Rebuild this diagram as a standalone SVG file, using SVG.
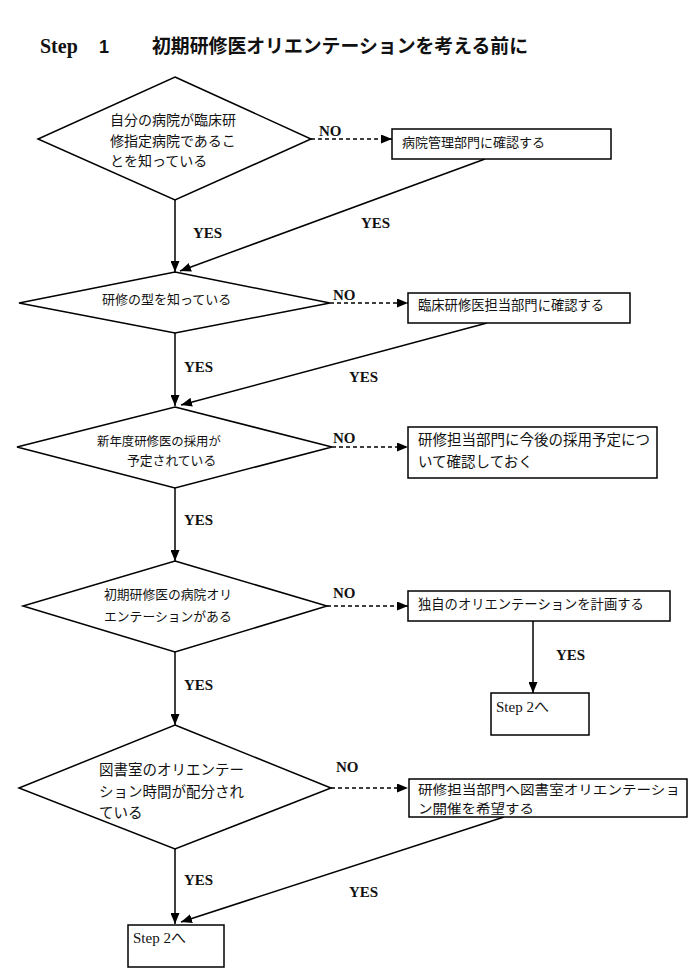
<svg xmlns="http://www.w3.org/2000/svg" width="693" height="976" viewBox="0 0 693 976">
<style>
.shape{fill:#fff;stroke:#000;stroke-width:1.5}
.ln{fill:none;stroke:#000;stroke-width:1.5}
.dash{stroke-dasharray:4,3}
.jp{font-family:"Noto Sans CJK JP","Noto Sans",sans-serif;fill:#111}
.lbl{font-family:"Liberation Serif",serif;font-weight:bold;font-size:15px;fill:#111}
.stp{font-family:"Liberation Serif","Noto Sans CJK JP",serif;font-size:15px;fill:#111}
</style>
<defs>
<marker id="ah" markerUnits="userSpaceOnUse" markerWidth="11" markerHeight="9" refX="11" refY="4.5" orient="auto">
<path d="M0,0 L11,4.5 L0,9 z" fill="#000"/>
</marker>
</defs>
<rect width="693" height="976" fill="#fff"/>
<g id="title">
<text x="40" y="53" font-family="Liberation Serif,serif" font-weight="bold" font-size="20" fill="#111">Step</text>
<text x="99" y="53" font-family="Liberation Sans,sans-serif" font-weight="bold" font-size="18" fill="#111">1</text>
<text x="152" y="53" class="jp" font-weight="bold" font-size="19" textLength="376" lengthAdjust="spacingAndGlyphs">初期研修医オリエンテーションを考える前に</text>
</g>
<g id="connectors">
<line class="ln" x1="175" y1="200" x2="175" y2="272" marker-end="url(#ah)"/>
<line class="ln dash" x1="311" y1="139" x2="392" y2="139" marker-end="url(#ah)"/>
<line class="ln" x1="485" y1="159" x2="180" y2="271" marker-end="url(#ah)"/>
<line class="ln dash" x1="330" y1="303" x2="408" y2="303" marker-end="url(#ah)"/>
<line class="ln" x1="175" y1="333" x2="175" y2="406" marker-end="url(#ah)"/>
<line class="ln" x1="487" y1="323" x2="181" y2="405" marker-end="url(#ah)"/>
<line class="ln dash" x1="332" y1="447" x2="408" y2="447" marker-end="url(#ah)"/>
<line class="ln" x1="175" y1="488" x2="175" y2="561" marker-end="url(#ah)"/>
<line class="ln dash" x1="327" y1="606" x2="408" y2="606" marker-end="url(#ah)"/>
<line class="ln" x1="533" y1="621" x2="533" y2="693" marker-end="url(#ah)"/>
<line class="ln" x1="175" y1="652" x2="175" y2="725" marker-end="url(#ah)"/>
<line class="ln dash" x1="331" y1="788" x2="408" y2="788" marker-end="url(#ah)"/>
<line class="ln" x1="175" y1="849" x2="175" y2="924" marker-end="url(#ah)"/>
<line class="ln" x1="504" y1="817" x2="181" y2="922" marker-end="url(#ah)"/>
<text class="lbl" x="319" y="136">NO</text>
<text class="lbl" x="193" y="238">YES</text>
<text class="lbl" x="361" y="228">YES</text>
<text class="lbl" x="333" y="300">NO</text>
<text class="lbl" x="184" y="372">YES</text>
<text class="lbl" x="349" y="382">YES</text>
<text class="lbl" x="333" y="443">NO</text>
<text class="lbl" x="184" y="525">YES</text>
<text class="lbl" x="333" y="598">NO</text>
<text class="lbl" x="556" y="660">YES</text>
<text class="lbl" x="184" y="690">YES</text>
<text class="lbl" x="336" y="772">NO</text>
<text class="lbl" x="184" y="885">YES</text>
<text class="lbl" x="349" y="897">YES</text>
</g>
<g id="d1">
<polygon class="shape" points="175,77 311,139 175,200 38,139"/>
<text class="jp" font-size="14" x="110" y="125">自分の病院が臨床研</text>
<text class="jp" font-size="14" x="110" y="146">修指定病院であるこ</text>
<text class="jp" font-size="14" x="110" y="166">とを知っている</text>
</g>
<g id="b1">
<rect class="shape" x="392" y="129" width="219" height="30"/>
<text class="jp" font-size="13" x="402" y="147">病院管理部門に確認する</text>
</g>
<g id="d2">
<polygon class="shape" points="175,272 330,303 175,333 19,303"/>
<text class="jp" font-size="13" x="102" y="304">研修の型を知っている</text>
</g>
<g id="b2">
<rect class="shape" x="408" y="293" width="222" height="30"/>
<text class="jp" font-size="13.3" x="418" y="310">臨床研修医担当部門に確認する</text>
</g>
<g id="d3">
<polygon class="shape" points="175,407 332,447 175,488 17,447"/>
<text class="jp" font-size="12.4" x="97" y="446">新年度研修医の採用が</text>
<text class="jp" font-size="12.8" x="127" y="465">予定されている</text>
</g>
<g id="b3">
<rect class="shape" x="408" y="427" width="249" height="51"/>
<text class="jp" font-size="14.5" x="418" y="445">研修担当部門に今後の採用予定につ</text>
<text class="jp" font-size="14.5" x="418" y="467">いて確認しておく</text>
</g>
<g id="d4">
<polygon class="shape" points="175,561 327,606 175,652 23,606"/>
<text class="jp" font-size="12.8" x="104" y="599">初期研修医の病院オリ</text>
<text class="jp" font-size="12.8" x="104" y="621">エンテーションがある</text>
</g>
<g id="b4">
<rect class="shape" x="408" y="591" width="262" height="30"/>
<text class="jp" font-size="13.3" x="418" y="609">独自のオリエンテーションを計画する</text>
</g>
<g id="s2a">
<rect class="shape" x="491" y="693" width="98" height="42"/>
<text class="stp" x="496" y="712">Step 2へ</text>
</g>
<g id="d5">
<polygon class="shape" points="175,725 331,788 175,849 19,788"/>
<text class="jp" font-size="14.5" x="99" y="775">図書室のオリエンテー</text>
<text class="jp" font-size="14.5" x="99" y="797">ション時間が配分され</text>
<text class="jp" font-size="14.5" x="99" y="818">ている</text>
</g>
<g id="b5">
<rect class="shape" x="409" y="779" width="278" height="38"/>
<text class="jp" font-size="13" x="418" y="794" textLength="262" lengthAdjust="spacingAndGlyphs">研修担当部門へ図書室オリエンテーショ</text>
<text class="jp" font-size="13" x="418" y="813" textLength="116" lengthAdjust="spacingAndGlyphs">ン開催を希望する</text>
</g>
<g id="s2b">
<rect class="shape" x="128" y="925" width="96" height="42"/>
<text class="stp" x="133" y="943">Step 2へ</text>
</g>
</svg>
